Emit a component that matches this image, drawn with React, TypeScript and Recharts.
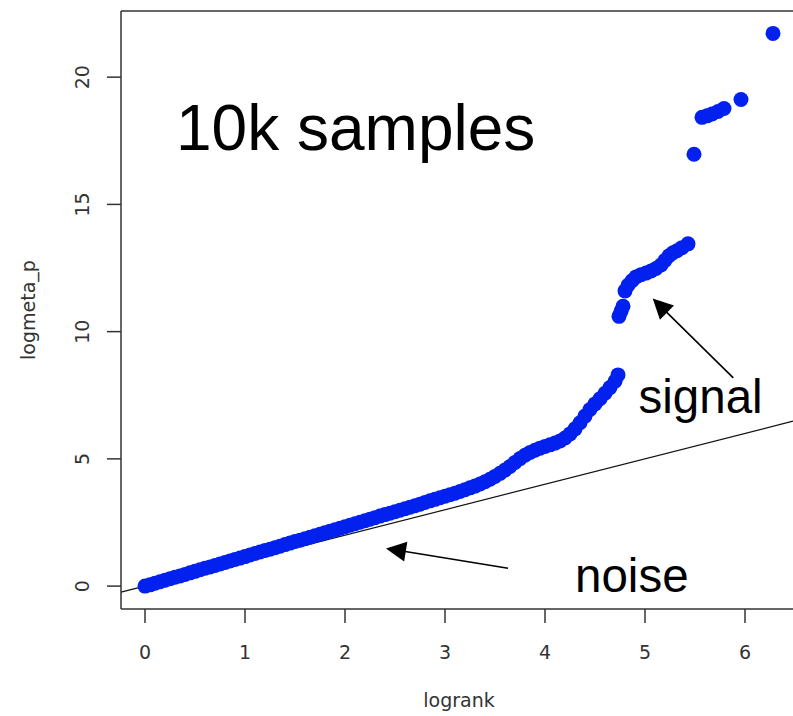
import React from 'react';
import { ScatterChart, Scatter, XAxis, YAxis, ReferenceLine, ReferenceDot } from 'recharts';

// QQ-style plot: observed -log p against expected log rank
const lograng = [
  0.0, 0.05, 0.1, 0.15, 0.2, 0.25, 0.3, 0.35, 0.4, 0.45,
  0.5, 0.55, 0.6, 0.65, 0.7, 0.75, 0.8, 0.85, 0.9, 0.95,
  1.0, 1.05, 1.1, 1.15, 1.2, 1.25, 1.3, 1.35, 1.4, 1.45,
  1.5, 1.55, 1.6, 1.65, 1.7, 1.75, 1.8, 1.85, 1.9, 1.95,
  2.0, 2.05, 2.1, 2.15, 2.2, 2.25, 2.3, 2.35, 2.4, 2.45,
  2.5, 2.55, 2.6, 2.65, 2.7, 2.75, 2.8, 2.85, 2.9, 2.95,
  3.0, 3.05, 3.1, 3.15, 3.2, 3.25, 3.3, 3.35, 3.4, 3.45,
  3.5, 3.55, 3.6, 3.65, 3.7, 3.75, 3.8, 3.85, 3.9, 3.95,
  4.0, 4.05, 4.1, 4.15, 4.2, 4.25, 4.3, 4.35, 4.4, 4.45,
  4.5, 4.55, 4.6, 4.65, 4.7, 4.73,
  4.74, 4.76, 4.78,
  4.8, 4.83, 4.87, 4.91, 4.96, 5.01, 5.06, 5.11, 5.16, 5.2, 5.24, 5.28, 5.32, 5.37, 5.43,
  5.49, 5.57, 5.62, 5.67, 5.73, 5.79, 5.96, 6.28,
];

const logmetaP = [
  0.0, 0.05, 0.11, 0.17, 0.23, 0.29, 0.35, 0.4, 0.46, 0.52,
  0.58, 0.64, 0.7, 0.75, 0.81, 0.87, 0.93, 0.99, 1.05, 1.1,
  1.16, 1.22, 1.28, 1.34, 1.4, 1.45, 1.51, 1.57, 1.63, 1.69,
  1.75, 1.8, 1.86, 1.92, 1.98, 2.04, 2.1, 2.16, 2.21, 2.27,
  2.33, 2.39, 2.45, 2.51, 2.57, 2.63, 2.69, 2.75, 2.81, 2.86,
  2.92, 2.98, 3.04, 3.1, 3.16, 3.22, 3.29, 3.35, 3.41, 3.47,
  3.53, 3.59, 3.65, 3.72, 3.79, 3.86, 3.93, 4.01, 4.1, 4.2,
  4.31, 4.43, 4.56, 4.7, 4.86, 5.01, 5.14, 5.25, 5.34, 5.42,
  5.49, 5.55, 5.62, 5.7, 5.82, 5.98, 6.18, 6.42, 6.68, 6.94,
  7.16, 7.36, 7.58, 7.8, 8.05, 8.3,
  10.6, 10.8, 11.0,
  11.6, 11.82, 12.0, 12.15, 12.24, 12.3, 12.38, 12.48, 12.62, 12.8, 12.98, 13.1, 13.18, 13.3, 13.45,
  16.97, 18.42, 18.48, 18.55, 18.65, 18.77, 19.12, 21.72,
];

const xTicks = [0, 1, 2, 3, 4, 5, 6];
const yTicks = [0, 5, 10, 15, 20];
const xDomain: [number, number] = [-0.24, 6.48];
const yDomain: [number, number] = [-0.9, 22.6];

// text annotations placed in data coordinates (x, y = start of baseline)
const noteText = ['10k samples', 'signal', 'noise'];
const noteX = [0.31, 4.935, 4.3];
const noteY = [17.13, 6.8, -0.236];
const noteSize = [64, 47.5, 47.5];

// arrows: tail -> tip
const arrowTailX = [5.883, 3.63];
const arrowTailY = [8.18, 0.7];
const arrowTipX = [5.077, 2.41];
const arrowTipY = [11.3, 1.48];

const points = lograng.map((x, i) => ({ lograng: x, logmeta_p: logmetaP[i] }));

const BLUE = '#0220ee';
const AXIS = '#333';
const AXIS_FONT = '"DejaVu Sans", sans-serif';
const NOTE_FONT = '"Liberation Sans", Arial, sans-serif';

const Dot = (p: any) => <circle cx={p.cx} cy={p.cy} r={7.5} fill={BLUE} />;

const XTick = (p: any) => (
  <text x={p.x} y={p.y} dy={34} textAnchor="middle" fontSize={19} fontFamily={AXIS_FONT} fill={AXIS}>
    {p.payload.value}
  </text>
);

const YTick = (p: any) => {
  const bx = p.x - 15.5;
  return (
    <text
      x={bx}
      y={p.y}
      transform={`rotate(-90, ${bx}, ${p.y})`}
      textAnchor="middle"
      fontSize={19}
      fontFamily={AXIS_FONT}
      fill={AXIS}
    >
      {p.payload.value}
    </text>
  );
};

const XTitle = (p: any) => {
  const vb = p.viewBox || { x: 121, y: 609, width: 672, height: 107 };
  return (
    <text x={vb.x + vb.width / 2 + 2} y={vb.y + 98} textAnchor="middle" fontSize={19} fontFamily={AXIS_FONT} fill={AXIS}>
      logrank
    </text>
  );
};

const YTitle = (p: any) => {
  const vb = p.viewBox || { x: 0, y: 11, width: 121, height: 598 };
  const bx = vb.x + 34.5;
  const cy = vb.y + vb.height / 2;
  return (
    <text
      x={bx}
      y={cy}
      transform={`rotate(-90, ${bx}, ${cy})`}
      textAnchor="middle"
      fontSize={19}
      fontFamily={AXIS_FONT}
      fill={AXIS}
    >
      logmeta_p
    </text>
  );
};

const makeNote = (text: string, size: number) => (p: any) => (
  <text x={p.cx} y={p.cy} fontSize={size} fontFamily={NOTE_FONT} fill="#000">
    {text}
  </text>
);

const Arrow = (p: any) => {
  const { x1, y1, x2, y2 } = p;
  const dx = x2 - x1;
  const dy = y2 - y1;
  const len = Math.hypot(dx, dy) || 1;
  const ux = dx / len;
  const uy = dy / len;
  const hl = 20;
  const hw = 10;
  const bx = x2 - ux * hl;
  const by = y2 - uy * hl;
  const pts = `${x2},${y2} ${bx - uy * hw},${by + ux * hw} ${bx + uy * hw},${by - ux * hw}`;
  return (
    <g>
      <line x1={x1} y1={y1} x2={bx + ux * 2} y2={by + uy * 2} stroke="#000" strokeWidth={1.6} />
      <polygon points={pts} fill="#000" />
    </g>
  );
};

export default function App() {
  return (
    <div style={{ position: 'absolute', left: 0, top: 0, width: 793, height: 716, overflow: 'hidden', background: '#fff' }}>
      <ScatterChart width={793} height={716} margin={{ top: 11, right: 0, bottom: 0, left: 0 }}>
        <XAxis
          type="number"
          dataKey="lograng"
          domain={xDomain}
          ticks={xTicks}
          allowDataOverflow
          interval={0}
          height={107}
          tickSize={14}
          axisLine={{ stroke: AXIS, strokeWidth: 1.5 }}
          tickLine={{ stroke: AXIS, strokeWidth: 1.5 }}
          tick={<XTick />}
          label={<XTitle />}
        />
        <YAxis
          type="number"
          dataKey="logmeta_p"
          domain={yDomain}
          ticks={yTicks}
          allowDataOverflow
          interval={0}
          width={121}
          tickSize={14}
          axisLine={{ stroke: AXIS, strokeWidth: 1.5 }}
          tickLine={{ stroke: AXIS, strokeWidth: 1.5 }}
          tick={<YTick />}
          label={<YTitle />}
        />
        <ReferenceLine y={yDomain[1]} stroke={AXIS} strokeWidth={1.5} />
        <ReferenceLine
          segment={[
            { x: xDomain[0], y: xDomain[0] },
            { x: xDomain[1], y: xDomain[1] },
          ]}
          stroke="#111"
          strokeWidth={1.2}
        />
        <Scatter data={points} shape={<Dot />} isAnimationActive={false} />
        {noteText.map((t, i) => (
          <ReferenceDot key={t} x={noteX[i]} y={noteY[i]} r={0} shape={makeNote(t, noteSize[i])} />
        ))}
        {arrowTailX.map((_, i) => (
          <ReferenceLine
            key={`arrow-${i}`}
            segment={[
              { x: arrowTailX[i], y: arrowTailY[i] },
              { x: arrowTipX[i], y: arrowTipY[i] },
            ]}
            shape={Arrow}
          />
        ))}
      </ScatterChart>
    </div>
  );
}
